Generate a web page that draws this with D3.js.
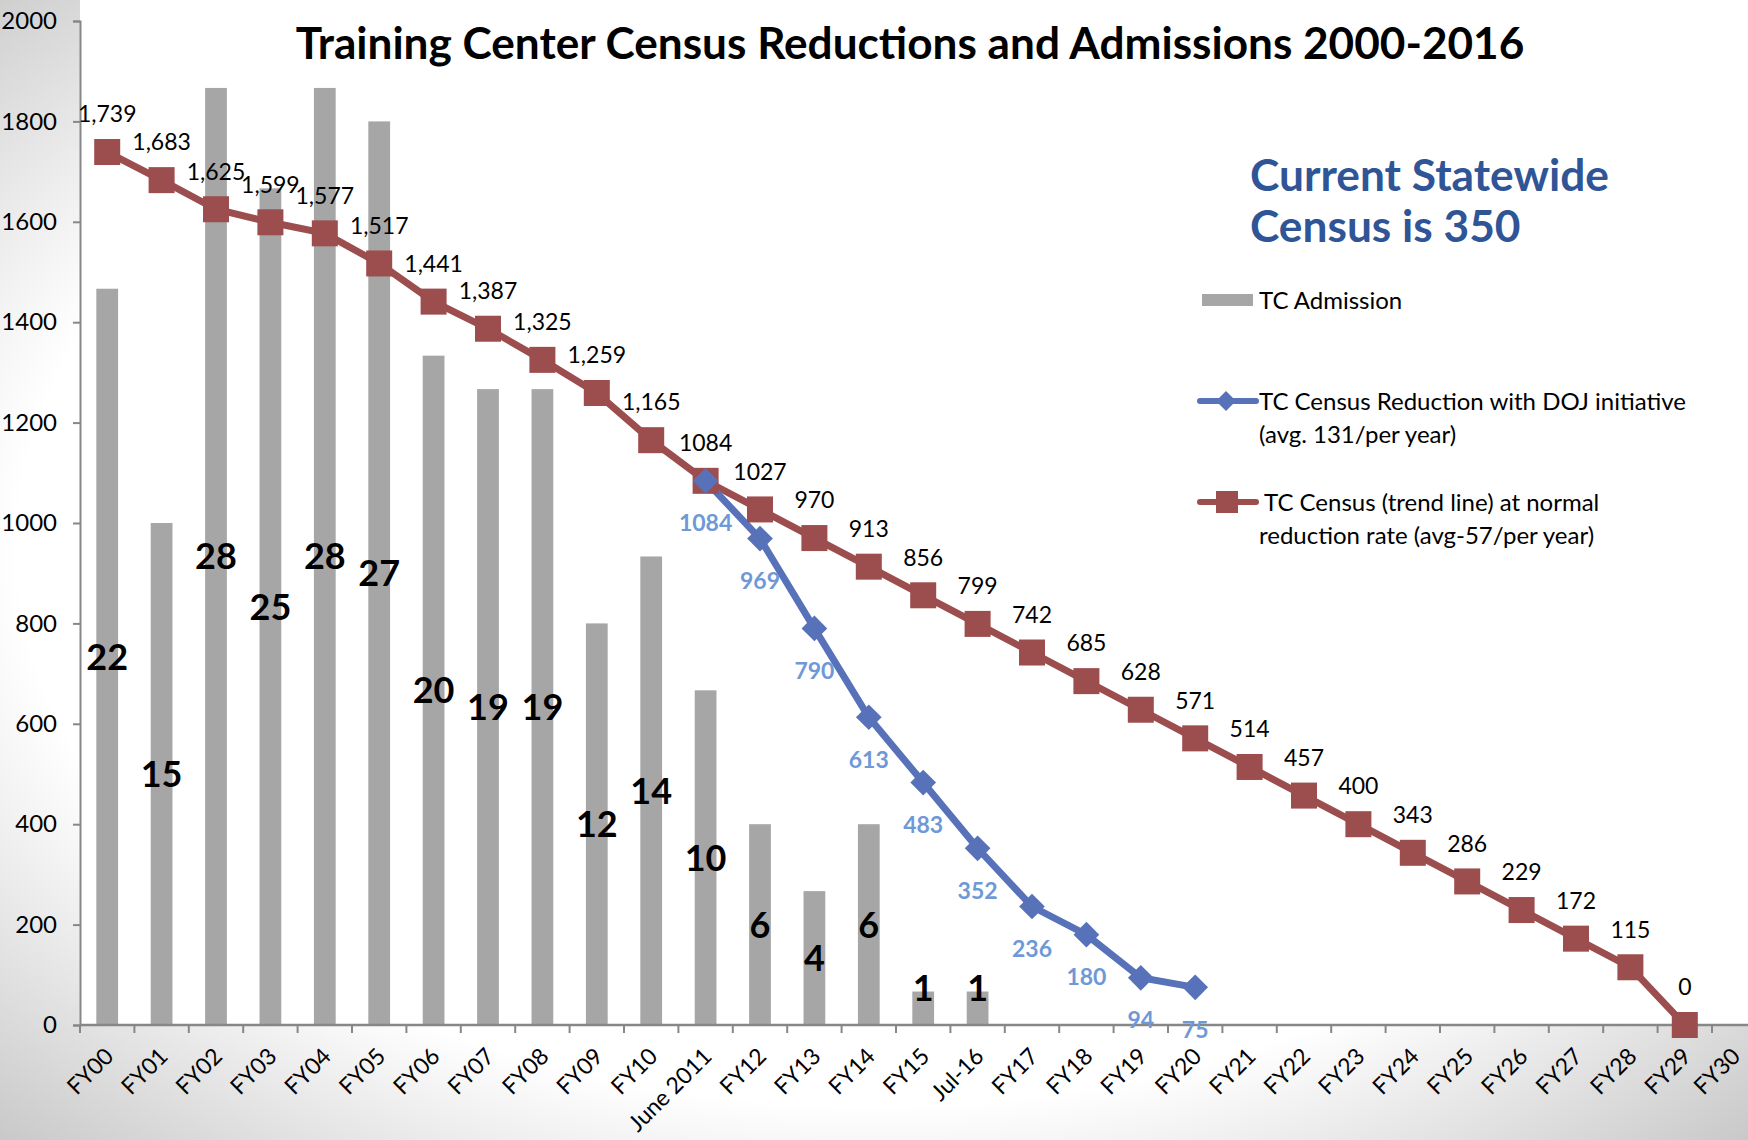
<!DOCTYPE html>
<html>
<head>
<meta charset="utf-8">
<script src="https://cdn.jsdelivr.net/npm/d3@7"></script>
<style>
  html, body { margin: 0; padding: 0; background: #fff; }
  svg { display: block; font-family: Lato, "Open Sans", sans-serif; }
</style>
</head>
<body>
<svg id="chart"></svg>
<script>
// categories along the x axis
const categories = ["FY00", "FY01", "FY02", "FY03", "FY04", "FY05", "FY06", "FY07", "FY08", "FY09", "FY10",
  "June 2011", "FY12", "FY13", "FY14", "FY15", "Jul-16", "FY17", "FY18", "FY19", "FY20", "FY21", "FY22",
  "FY23", "FY24", "FY25", "FY26", "FY27", "FY28", "FY29", "FY30"];

// TC admissions (bars, FY00 .. Jul-16), secondary scale 0-30
const admissions = [22, 15, 28, 25, 28, 27, 20, 19, 19, 12, 14, 10, 6, 4, 6, 1, 1];

// trend line at normal reduction rate (FY00 .. FY29)
const trendValues = [1739, 1683, 1625, 1599, 1577, 1517, 1441, 1387, 1325, 1259, 1165, 1084, 1027, 970,
  913, 856, 799, 742, 685, 628, 571, 514, 457, 400, 343, 286, 229, 172, 115, 0];
const trendLabels = ["1,739", "1,683", "1,625", "1,599", "1,577", "1,517", "1,441", "1,387", "1,325",
  "1,259", "1,165", "1084", "1027", "970", "913", "856", "799", "742", "685", "628", "571", "514", "457",
  "400", "343", "286", "229", "172", "115", "0"];

// reduction with DOJ initiative (June 2011 .. FY20)
const dojCategories = ["June 2011", "FY12", "FY13", "FY14", "FY15", "Jul-16", "FY17", "FY18", "FY19", "FY20"];
const dojValues = [1084, 969, 790, 613, 483, 352, 236, 180, 94, 75];

const yTicks = [0, 200, 400, 600, 800, 1000, 1200, 1400, 1600, 1800, 2000];

const W = 1748, H = 1140;
const plotLeft = 80, plotBottom = 1025, plotTop = 21;
const band = 54.4;

const red = "#9c4d4e", blue = "#5872b9", blueText = "#6e99d6", barColor = "#a6a6a6", axisColor = "#878787";

const svg = d3.select("#chart").attr("width", W).attr("height", H);

// background gradient
const defs = svg.append("defs");
const grad = defs.append("radialGradient").attr("id", "bg")
  .attr("cx", "50%").attr("cy", "48%").attr("r", "72%");
grad.append("stop").attr("offset", "68%").attr("stop-color", "#ffffff");
grad.append("stop").attr("offset", "100%").attr("stop-color", "#c9c9c9");
svg.append("rect").attr("width", W).attr("height", H).attr("fill", "url(#bg)");
svg.append("rect").attr("x", plotLeft).attr("y", 0).attr("width", W - plotLeft).attr("height", plotBottom)
  .attr("fill", "#fff");

const x = d3.scaleBand().domain(categories).range([plotLeft, plotLeft + band * categories.length]).padding(0);
const y = d3.scaleLinear().domain([0, 2000]).range([plotBottom, plotTop]);
const y2 = d3.scaleLinear().domain([0, 30]).range([plotBottom, plotTop]);
const cx = d => x(d) + x.bandwidth() / 2;

// y axis
const yAxis = d3.axisLeft(y).tickValues(yTicks).tickSize(7).tickPadding(16).tickFormat(d3.format("d"));
const gy = svg.append("g").attr("transform", `translate(${plotLeft},0)`).call(yAxis);
gy.select(".domain").attr("stroke", axisColor).attr("stroke-width", 2);
gy.selectAll(".tick line").attr("stroke", axisColor).attr("stroke-width", 2);
gy.selectAll(".tick text").attr("font-size", 24).attr("font-family", "Lato, sans-serif").attr("fill", "#000");

// bars
const barW = x.bandwidth() * 0.4;
svg.selectAll(".bar")
  .data(admissions)
  .enter()
  .append("rect")
  .attr("class", "bar")
  .attr("x", (d, i) => cx(categories[i]) - barW / 2)
  .attr("y", d => y2(d))
  .attr("width", barW)
  .attr("height", d => plotBottom - y2(d))
  .attr("fill", barColor);

// x axis
svg.append("line")
  .attr("x1", plotLeft).attr("x2", W).attr("y1", plotBottom).attr("y2", plotBottom)
  .attr("stroke", axisColor).attr("stroke-width", 2.5);
svg.selectAll(".xtick")
  .data(categories.concat(["end"]))
  .enter()
  .append("line")
  .attr("class", "xtick")
  .attr("x1", d => d === "end" ? x.range()[1] : x(d))
  .attr("x2", d => d === "end" ? x.range()[1] : x(d))
  .attr("y1", plotBottom).attr("y2", plotBottom + 8)
  .attr("stroke", axisColor).attr("stroke-width", 2);
svg.selectAll(".xlabel")
  .data(categories)
  .enter()
  .append("text")
  .attr("class", "xlabel")
  .attr("transform", d => `translate(${Math.min(cx(d) + 2, W - 12)},${plotBottom + 27}) rotate(-45)`)
  .attr("text-anchor", "end")
  .attr("dy", "0.35em")
  .attr("font-size", 23)
  .text(d => d);

// admission labels
svg.selectAll(".barlabel")
  .data(admissions)
  .enter()
  .append("text")
  .attr("class", "barlabel")
  .attr("x", (d, i) => cx(categories[i]))
  .attr("y", d => Math.min((y2(d) + plotBottom) / 2, plotBottom - 37))
  .attr("dy", "0.36em")
  .attr("text-anchor", "middle")
  .attr("font-size", 36)
  .attr("font-weight", "bold")
  .text(d => d);

// trend line
const trendData = trendValues.map((v, i) => ({ c: categories[i], v: v, label: trendLabels[i] }));
const line = d3.line().x(d => cx(d.c)).y(d => y(d.v));
svg.append("path").datum(trendData)
  .attr("d", line).attr("fill", "none").attr("stroke", red).attr("stroke-width", 7);

// DOJ line
const dojData = dojValues.map((v, i) => ({ c: dojCategories[i], v: v }));
svg.append("path").datum(dojData)
  .attr("d", line).attr("fill", "none").attr("stroke", blue).attr("stroke-width", 7);

svg.selectAll(".sq")
  .data(trendData)
  .enter()
  .append("rect")
  .attr("class", "sq")
  .attr("x", d => cx(d.c) - 13)
  .attr("y", d => y(d.v) - 13)
  .attr("width", 26).attr("height", 26)
  .attr("fill", red);

svg.selectAll(".dia")
  .data(dojData)
  .enter()
  .append("path")
  .attr("class", "dia")
  .attr("d", d3.symbol().type(d3.symbolSquare).size(330))
  .attr("transform", d => `translate(${cx(d.c)},${y(d.v)}) rotate(45)`)
  .attr("fill", blue);

svg.selectAll(".trendlabel")
  .data(trendData)
  .enter()
  .append("text")
  .attr("class", "trendlabel")
  .attr("x", d => cx(d.c))
  .attr("y", d => y(d.v) - 38)
  .attr("dy", "0.36em")
  .attr("text-anchor", "middle")
  .attr("font-size", 23)
  .text(d => d.label);

svg.selectAll(".dojlabel")
  .data(dojData)
  .enter()
  .append("text")
  .attr("class", "dojlabel")
  .attr("x", d => cx(d.c))
  .attr("y", d => y(d.v) + 42)
  .attr("dy", "0.36em")
  .attr("text-anchor", "middle")
  .attr("font-size", 23)
  .attr("font-weight", "bold")
  .attr("fill", blueText)
  .text(d => d.v);

// fit a text element to a width
function fitWidth(sel, w) {
  const len = sel.node().getComputedTextLength();
  sel.attr("font-size", parseFloat(sel.attr("font-size")) * w / len);
}

// title
const title = svg.append("text")
  .attr("x", 910).attr("y", 43).attr("dy", "0.36em")
  .attr("text-anchor", "middle").attr("font-size", 38).attr("font-weight", "bold")
  .text("Training Center Census Reductions and Admissions 2000-2016");
fitWidth(title, 1229);

// big note
const note1 = svg.append("text").attr("x", 1250).attr("y", 175).attr("dy", "0.36em")
  .attr("font-size", 40).attr("font-weight", "bold").attr("fill", "#2f5597")
  .text("Current Statewide");
fitWidth(note1, 359);
svg.append("text").attr("x", 1250).attr("y", 226).attr("dy", "0.36em")
  .attr("font-size", note1.attr("font-size")).attr("font-weight", "bold").attr("fill", "#2f5597")
  .text("Census is 350");

// legend
const lg = svg.append("g").attr("font-size", 24);
lg.append("rect").attr("x", 1202).attr("y", 294).attr("width", 51).attr("height", 12).attr("fill", barColor);
lg.append("text").attr("x", 1259).attr("y", 300).attr("dy", "0.36em").text("TC Admission");

lg.append("line").attr("x1", 1200).attr("x2", 1256).attr("y1", 401).attr("y2", 401)
  .attr("stroke", blue).attr("stroke-width", 6).attr("stroke-linecap", "round");
lg.append("path").attr("d", d3.symbol().type(d3.symbolSquare).size(200))
  .attr("transform", "translate(1226,401) rotate(45)").attr("fill", blue);
lg.append("text").attr("x", 1259).attr("y", 401).attr("dy", "0.36em").text("TC Census Reduction with DOJ initiative");
lg.append("text").attr("x", 1259).attr("y", 434).attr("dy", "0.36em").text("(avg. 131/per year)");

lg.append("line").attr("x1", 1200).attr("x2", 1256).attr("y1", 502).attr("y2", 502)
  .attr("stroke", red).attr("stroke-width", 6).attr("stroke-linecap", "round");
lg.append("rect").attr("x", 1216).attr("y", 491).attr("width", 22).attr("height", 22).attr("fill", red);
lg.append("text").attr("x", 1264).attr("y", 502).attr("dy", "0.36em").text("TC Census (trend line) at normal");
lg.append("text").attr("x", 1259).attr("y", 535).attr("dy", "0.36em").text("reduction rate (avg-57/per year)");
</script>
</body>
</html>
